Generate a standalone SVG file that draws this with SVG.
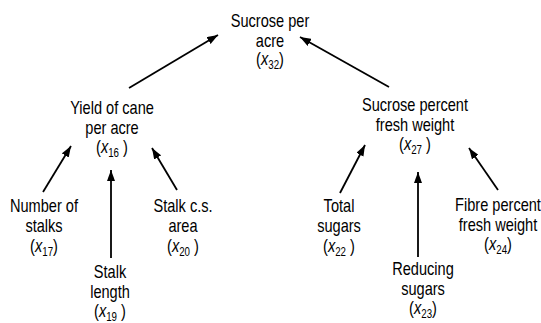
<svg xmlns="http://www.w3.org/2000/svg" width="541" height="323" viewBox="0 0 541 323">
<style>
text{font-family:"Liberation Sans",Arial,sans-serif;font-size:18px;fill:#000;text-anchor:middle}
.i{font-style:italic}
.s{font-size:12px}
.c line{stroke:#000;stroke-width:1.8;marker-end:url(#ah)}
</style>
<defs>
<marker id="ah" markerUnits="userSpaceOnUse" markerWidth="11" markerHeight="8" refX="11" refY="4" orient="auto">
<path d="M0,0 L11,4 L0,8 z" fill="#000"/>
</marker>
</defs>
<rect width="541" height="323" fill="#fff"/>
<g class="c" id="connectors">
<line x1="129" y1="88" x2="218" y2="35"/>
<line x1="389" y1="87" x2="300" y2="37"/>
<line x1="43" y1="192" x2="71" y2="146"/>
<line x1="111" y1="258" x2="111" y2="170"/>
<line x1="177" y1="190" x2="152" y2="148"/>
<line x1="340" y1="193" x2="365" y2="145"/>
<line x1="418" y1="257" x2="418" y2="172"/>
<line x1="498" y1="190" x2="469" y2="148"/>
</g>
<g id="x32" transform="translate(270,0) scale(0.81,1)">
<text y="27">Sucrose per</text>
<text y="47">acre</text>
<text y="65">(<tspan class="i">x</tspan><tspan class="s" dy="4">32</tspan><tspan dy="-4">)</tspan></text>
</g>
<g id="x16" transform="translate(112,0) scale(0.81,1)">
<text y="114">Yield of cane</text>
<text y="134">per acre</text>
<text y="153">(<tspan class="i">x</tspan><tspan class="s" dy="4">16</tspan><tspan dy="-4"> )</tspan></text>
</g>
<g id="x27" transform="translate(415,0) scale(0.81,1)">
<text y="111">Sucrose percent</text>
<text y="131">fresh weight</text>
<text y="150">(<tspan class="i">x</tspan><tspan class="s" dy="4">27</tspan><tspan dy="-4"> )</tspan></text>
</g>
<g id="x17" transform="translate(44,0) scale(0.81,1)">
<text y="212">Number of</text>
<text y="232">stalks</text>
<text y="252">(<tspan class="i">x</tspan><tspan class="s" dy="4">17</tspan><tspan dy="-4">)</tspan></text>
</g>
<g id="x19" transform="translate(110,0) scale(0.81,1)">
<text y="278">Stalk</text>
<text y="298">length</text>
<text y="317">(<tspan class="i">x</tspan><tspan class="s" dy="4">19</tspan><tspan dy="-4"> )</tspan></text>
</g>
<g id="x20" transform="translate(183,0) scale(0.81,1)">
<text y="212">Stalk c.s.</text>
<text y="232">area</text>
<text y="252">(<tspan class="i">x</tspan><tspan class="s" dy="4">20</tspan><tspan dy="-4"> )</tspan></text>
</g>
<g id="x22" transform="translate(339,0) scale(0.81,1)">
<text y="212">Total</text>
<text y="232">sugars</text>
<text y="252">(<tspan class="i">x</tspan><tspan class="s" dy="4">22</tspan><tspan dy="-4"> )</tspan></text>
</g>
<g id="x23" transform="translate(423,0) scale(0.81,1)">
<text y="275">Reducing</text>
<text y="295">sugars</text>
<text y="314">(<tspan class="i">x</tspan><tspan class="s" dy="4">23</tspan><tspan dy="-4">)</tspan></text>
</g>
<g id="x24" transform="translate(498,0) scale(0.81,1)">
<text y="211">Fibre percent</text>
<text y="231">fresh weight</text>
<text y="250">(<tspan class="i">x</tspan><tspan class="s" dy="4">24</tspan><tspan dy="-4">)</tspan></text>
</g>
</svg>
